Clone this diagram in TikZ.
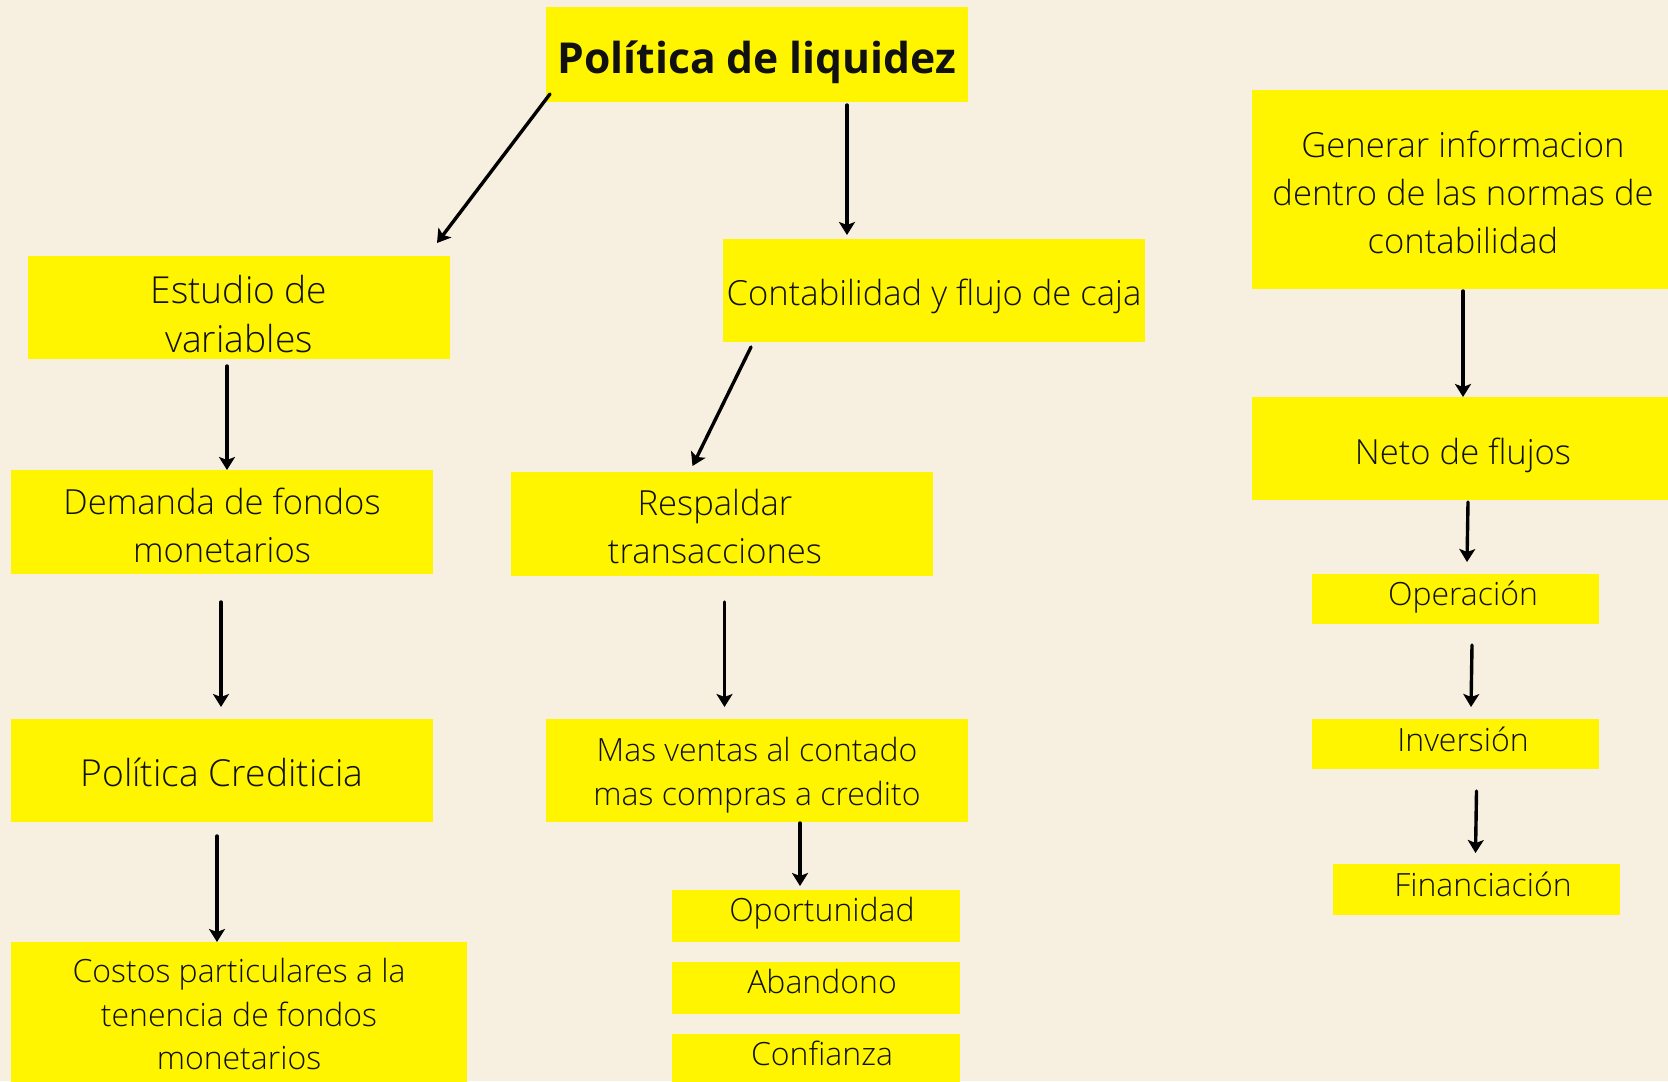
\documentclass[tikz,border=0pt]{standalone}
\usepackage{fontspec}
\setmainfont{Open Sans Light}[BoldFont={Open Sans Bold}]
\usetikzlibrary{arrows.meta,calc}
\definecolor{bgc}{HTML}{F7F0E1}
\definecolor{ybox}{HTML}{FFF500}
\definecolor{ink}{HTML}{111111}
\tikzset{
  ybox/.style={fill=ybox, draw=none, inner sep=0pt, rectangle},
  bigtxt/.style={text=ink, align=center, font=\fontsize{17.3}{24}\selectfont, inner sep=0pt},
  hugetxt/.style={text=ink, align=center, font=\fontsize{18.6}{24.5}\selectfont, inner sep=0pt},
  midtxt/.style={text=ink, align=center, font=\fontsize{16}{22}\selectfont, inner sep=0pt},
  arr/.style={draw=black, line width=1.7pt, -{Stealth[length=6.5pt,width=8pt,inset=1.5pt]}, line cap=round}
}
\begin{document}
\begin{tikzpicture}[x=0.5pt,y=-0.5pt]
\fill[bgc] (0,0) rectangle (1668,1081);
\useasboundingbox (0,0) rectangle (1668,1081);
\clip (0,0) rectangle (1668,1081);
% boxes
\node[ybox, minimum width=211pt, minimum height=47.5pt] (title) at (757,54.5) {};
\node[text=ink, font=\fontsize{21.3}{26}\selectfont\bfseries, inner sep=0pt] (titlet) at (757,62) {Política de liquidez};
\node[ybox, minimum width=211pt, minimum height=51.5pt] (estudio) at (239,307) {};
\node[hugetxt] (estudiot) at (239,314) {Estudio de\\variables};
\node[ybox, minimum width=211pt, minimum height=51.5pt] (contab) at (934,290) {};
\node[bigtxt] (contabt) at (934,296) {Contabilidad y flujo de caja};
\node[ybox, minimum width=211pt, minimum height=99.5pt] (generar) at (1463,189.5) {};
\node[bigtxt] (generart) at (1463,192) {Generar informacion\\dentro de las normas de\\contabilidad};
\node[ybox, minimum width=211pt, minimum height=51.5pt] (neto) at (1463,448.5) {};
\node[bigtxt] (netot) at (1463,455) {Neto de flujos};
\node[ybox, minimum width=143.5pt, minimum height=25pt] (oper) at (1455.5,599) {};
\node[midtxt] (opert) at (1463,597) {Operación};
\node[ybox, minimum width=143.5pt, minimum height=25pt] (inver) at (1455.5,744) {};
\node[midtxt] (invert) at (1463,739) {Inversión};
\node[ybox, minimum width=143.5pt, minimum height=25.5pt] (finan) at (1476.5,889.5) {};
\node[midtxt] (finant) at (1483,884) {Financiación};
\node[ybox, minimum width=211pt, minimum height=52pt] (demanda) at (222,522) {};
\node[bigtxt] (demandat) at (222,525) {Demanda de fondos\\monetarios};
\node[ybox, minimum width=211pt, minimum height=52pt] (respaldar) at (722,524) {};
\node[bigtxt] (respaldart) at (715,527) {Respaldar\\transacciones};
\node[ybox, minimum width=211pt, minimum height=51.5pt] (politica) at (222,770.5) {};
\node[hugetxt] (politicat) at (222,772) {Política Crediticia};
\node[ybox, minimum width=211pt, minimum height=51.5pt] (masventas) at (757,770.5) {};
\node[midtxt, font=\fontsize{16}{22.3}\selectfont] (masventast) at (757,775) {Mas ventas al contado\\mas compras a credito};
\node[ybox, minimum width=228pt, minimum height=90pt] (costos) at (239,1032) {};
\node[midtxt, font=\fontsize{16}{21.8}\selectfont] (costost) at (239,1014) {Costos particulares a la\\tenencia de fondos\\monetarios};
\node[ybox, minimum width=144pt, minimum height=26pt] (oport) at (816,916) {};
\node[midtxt] (oportt) at (822,913) {Oportunidad};
\node[ybox, minimum width=144pt, minimum height=26pt] (aband) at (816,988) {};
\node[midtxt] (abandt) at (822,981) {Abandono};
\node[ybox, minimum width=144pt, minimum height=26pt] (confi) at (816,1060) {};
\node[midtxt] (confit) at (822,1053) {Confianza};
% arrow end coordinates
\coordinate (a1s) at (550,94);   \coordinate (a1e) at (437,243);
\coordinate (a2s) at (847,105);  \coordinate (a2e) at (847,235);
\coordinate (a3s) at (227,366);  \coordinate (a3e) at (227,470);
\coordinate (a4s) at (221,602);  \coordinate (a4e) at (221,707);
\coordinate (a5s) at (217,836);  \coordinate (a5e) at (217,942);
\coordinate (a6s) at (751,347);  \coordinate (a6e) at (692.5,466);
\coordinate (a7s) at (724.5,602); \coordinate (a7e) at (724.5,707);
\coordinate (a8s) at (800,823);  \coordinate (a8e) at (800,886);
\coordinate (a9s) at (1463,291); \coordinate (a9e) at (1463,397);
\coordinate (a10s) at (1468,502); \coordinate (a10e) at (1467,562);
\coordinate (a11s) at (1472,645); \coordinate (a11e) at (1471,707);
\coordinate (a12s) at (1476.5,791); \coordinate (a12e) at (1475.5,853);
% connectors
\draw[arr] (a1s) -- (a1e);
\draw[arr] (a2s) -- (a2e);
\draw[arr] (a3s) -- (a3e);
\draw[arr] (a4s) -- (a4e);
\draw[arr] (a5s) -- (a5e);
\draw[arr] (a6s) -- (a6e);
\draw[arr] (a7s) -- (a7e);
\draw[arr] (a8s) -- (a8e);
\draw[arr] (a9s) -- (a9e);
\draw[arr] (a10s) -- (a10e);
\draw[arr] (a11s) -- (a11e);
\draw[arr] (a12s) -- (a12e);
\end{tikzpicture}
\end{document}
